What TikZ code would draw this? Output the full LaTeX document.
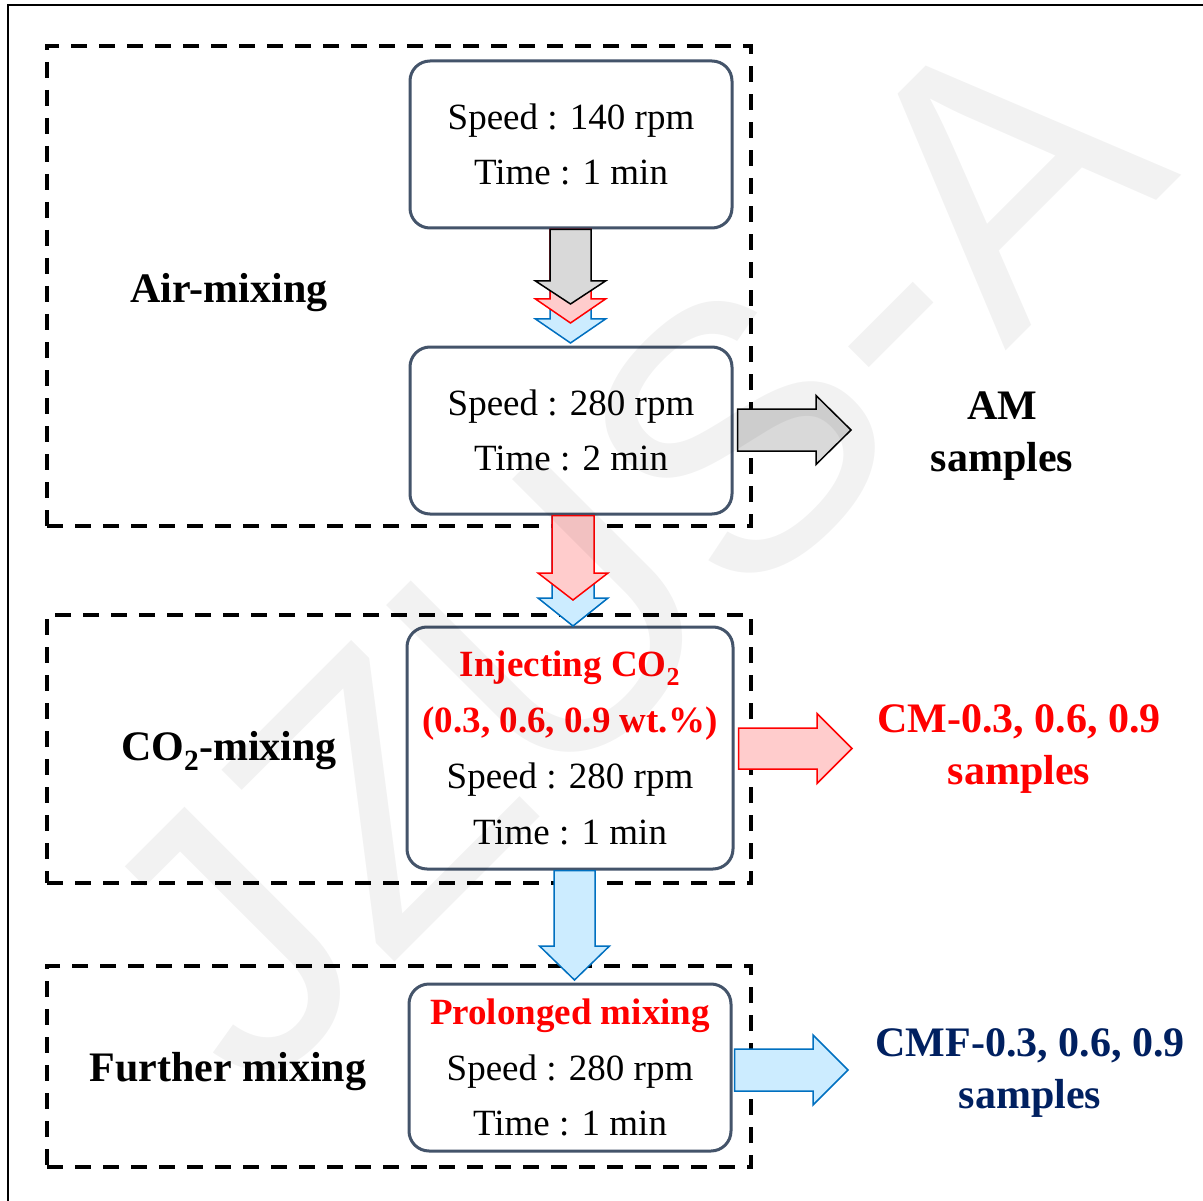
\documentclass[tikz,border=0pt]{standalone}
\usepackage{fontspec}
\setmainfont{Liberation Serif}
\newfontfamily\wmfont{Liberation Sans}
\usetikzlibrary{calc}
\definecolor{boxline}{HTML}{44546A}
\definecolor{arrgray}{HTML}{D9D9D9}
\definecolor{arrred}{HTML}{FFCCCC}
\definecolor{arrblue}{HTML}{0070C0}
\definecolor{arrbluefill}{HTML}{CCECFF}
\definecolor{navytxt}{HTML}{002060}
\newcommand{\blkdown}[6]{%
  \draw[#1] let \p1=(#2), \p2=(#3) in
   (\x2-#4,\y1) -- (\x2-#4,\y2+#6) -- (\x2-#5,\y2+#6) -- (\x2,\y2) --
   (\x2+#5,\y2+#6) -- (\x2+#4,\y2+#6) -- (\x2+#4,\y1) -- cycle;}
\newcommand{\blkright}[6]{%
  \draw[#1] let \p1=(#2), \p2=(#3) in
   (\x1,\y2+#4) -- (\x2-#6,\y2+#4) -- (\x2-#6,\y2+#5) -- (\x2,\y2) --
   (\x2-#6,\y2-#5) -- (\x2-#6,\y2-#4) -- (\x1,\y2-#4) -- cycle;}
\begin{document}
\begin{tikzpicture}[x=1pt,y=-1pt,
  grp/.style={draw=black, line width=4pt, dash pattern=on 16pt off 12pt, inner sep=0pt},
  procbox/.style={draw=boxline, line width=3pt, rounded corners=20pt, align=center,
    inner sep=0pt, font=\fontsize{37}{55}\selectfont},
  sidelabel/.style={font=\bfseries\fontsize{42}{50}\selectfont, anchor=base, inner sep=0pt},
  outlabel/.style={font=\bfseries\fontsize{42}{52}\selectfont, align=center, inner sep=0pt},
  grayarr/.style={draw=black, fill=arrgray, line width=1.5pt, line join=miter},
  redarr/.style={draw=red, fill=arrred, line width=1.5pt, line join=miter},
  bluearr/.style={draw=arrblue, fill=arrbluefill, line width=1.5pt, line join=miter}]
\useasboundingbox (0,0) rectangle (1203,1201);
\clip (0,0) rectangle (1203,1201);
\fill[white] (0,0) rectangle (1203,1201);
% outer frame (cropped at right and bottom)
\draw[line width=2.5pt] (1300,5) -- (8,5) -- (8,1300);
% dashed groups
\node[grp, minimum width=704pt, minimum height=480pt] (gAir) at (399,286) {};
\node[grp, minimum width=704pt, minimum height=268pt] (gCO) at (399,749) {};
\node[grp, minimum width=704pt, minimum height=201pt] (gFur) at (399,1066.5) {};
% process boxes
\node[procbox, minimum width=322pt, minimum height=167pt] (b1) at (571,144.5)
  {Speed : 140 rpm\\Time : 1 min};
\node[procbox, minimum width=322pt, minimum height=167pt] (b2) at (571,430.5)
  {Speed : 280 rpm\\Time : 2 min};
\node[procbox, minimum width=326pt, minimum height=242pt, font=\fontsize{37}{56}\selectfont] (b3) at (570,748)
  {\textcolor{red}{\textbf{Injecting CO\textsubscript{2}}}\\\textcolor{red}{\textbf{(0.3, 0.6, 0.9 wt.\%)}}\\Speed : 280 rpm\\Time : 1 min};
\node[procbox, minimum width=322pt, minimum height=167pt, font=\fontsize{37}{55.5}\selectfont] (b4) at (570,1067.5)
  {\textcolor{red}{\textbf{Prolonged mixing}}\\Speed : 280 rpm\\Time : 1 min};
% side labels
\node[sidelabel] (lAir) at (229,302) {Air-mixing};
\node[sidelabel] (lCO) at (229,760) {CO\textsubscript{2}-mixing};
\node[sidelabel] (lFur) at (228,1081) {Further mixing};
% output labels
\node[outlabel] (oAM) at (1002,436) {AM\\samples};
\node[outlabel, text=red] (oCM) at (1019,749) {CM-0.3, 0.6, 0.9\\samples};
\node[outlabel, text=navytxt] (oCMF) at (1030,1073) {CMF-0.3, 0.6, 0.9\\samples};
% arrow tips and starts
\coordinate (tipG) at (570.5,304);
\coordinate (tipR) at (570.5,323);
\coordinate (tipB) at (570.5,343);
\coordinate (tipR2) at (573,600);
\coordinate (tipB2) at (573,626);
\coordinate (tipB3) at (574.5,980);
\coordinate (sAM) at ($(b2.east)+(4,0)$);
\coordinate (sCM) at ($(b3.east)+(4,0)$);
\coordinate (sCMF) at ($(b4.east)+(2,0)$);
\coordinate (tipAM) at (851,430);
\coordinate (tipCM) at (852,748.5);
\coordinate (tipCMF) at (848,1070);
% down arrows
\blkdown{bluearr}{b1.south}{tipB}{20.5pt}{35pt}{24pt}
\blkdown{redarr}{b1.south}{tipR}{20.5pt}{35pt}{24pt}
\blkdown{grayarr}{b1.south}{tipG}{20.5pt}{35pt}{23pt}
\blkdown{bluearr}{b2.south}{tipB2}{21pt}{35pt}{28pt}
\blkdown{redarr}{b2.south}{tipR2}{21pt}{35pt}{27pt}
\blkdown{bluearr}{b3.south}{tipB3}{20.5pt}{35pt}{34pt}
% right arrows
\blkright{grayarr}{sAM}{tipAM}{21pt}{34.5pt}{35pt}
\blkright{redarr}{sCM}{tipCM}{20.5pt}{35pt}{35pt}
\blkright{bluearr}{sCMF}{tipCMF}{21pt}{35pt}{35pt}
% watermark
\node[anchor=base west, inner sep=0pt, rotate=45, text=black, opacity=0.05,
  font=\wmfont\fontsize{375}{375}\selectfont] (wm) at (254,1103) {JZUS-A};
\end{tikzpicture}
\end{document}
